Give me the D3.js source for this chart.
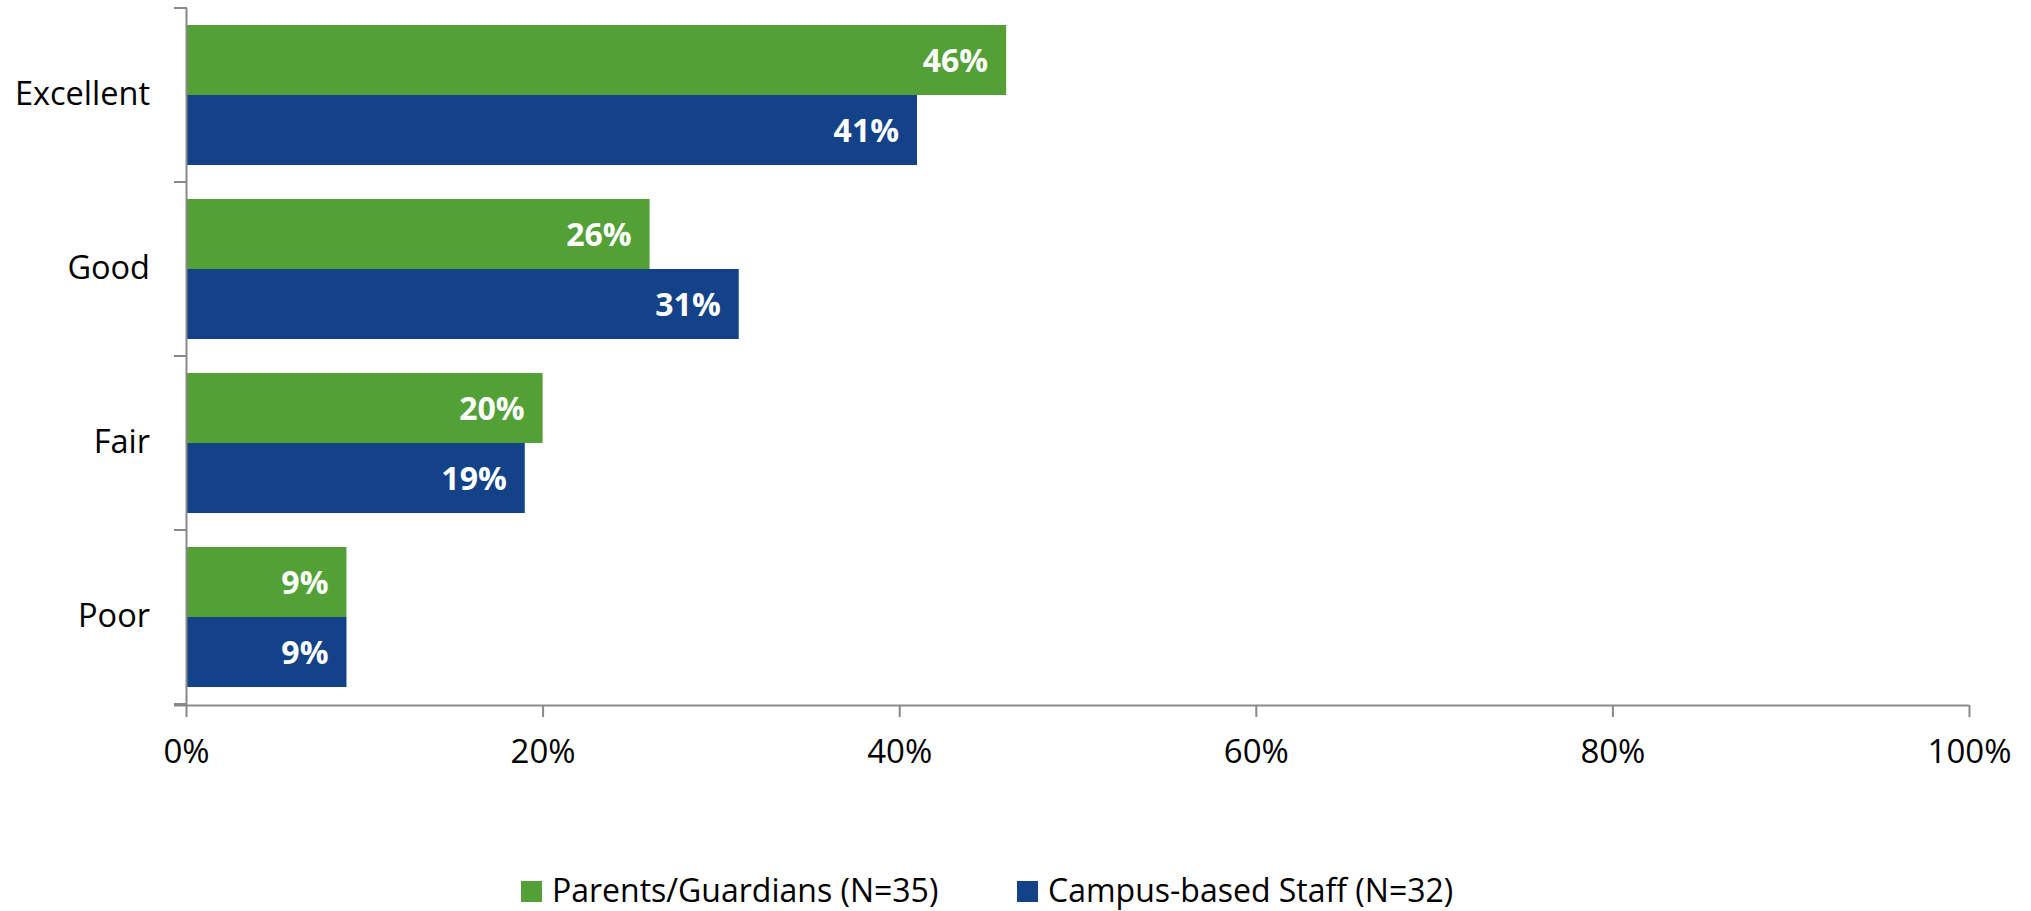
<!DOCTYPE html>
<html><head><meta charset="utf-8">
<script src="https://cdn.jsdelivr.net/npm/d3@7"></script>
<style>body{margin:0;background:#fff}svg{display:block}text{font-family:"Open Sans",sans-serif}</style>
</head><body><svg id="c" width="2031" height="911"></svg>
<script>
const categories = ["Excellent","Good","Fair","Poor"];
const seriesNames = ["Parents/Guardians (N=35)","Campus-based Staff (N=32)"];
const parents = [46,26,20,9];
const staff = [41,31,19,9];
const xTicks = [0,20,40,60,80,100];
const colors = ["#53A037","#134289"];

const svg = d3.select("#c");
const x = d3.scaleLinear().domain([0,100]).range([186,1969]);
const y = d3.scaleBand().domain(categories).range([8,704]).padding(0);
const yi = d3.scaleBand().domain([0,1]).range([0,y.bandwidth()]).paddingInner(0).paddingOuter(0.243);
const axisColor = "#898989";

const data = categories.map((c,i)=>({cat:c, vals:[parents[i], staff[i]]}));

const g = svg.append("g");
data.forEach(d=>{
  d.vals.forEach((v,s)=>{
    const yy = y(d.cat)+yi(s);
    g.append("rect").attr("x",x(0)).attr("y",yy).attr("width",x(v)-x(0)).attr("height",yi.bandwidth()).attr("fill",colors[s]);
    g.append("text").attr("x",x(v)-18).attr("y",yy+yi.bandwidth()/2).attr("dy","0.36em")
      .attr("text-anchor","end").attr("fill","#fff").attr("font-weight","bold").attr("font-size",32)
      .text(v+"%");
  });
});

// x axis
const xa = svg.append("g").attr("transform","translate(0,705)")
  .call(d3.axisBottom(x).tickValues(xTicks).tickFormat(d=>d+"%").tickSize(12).tickSizeOuter(0).tickPadding(23));
xa.select(".domain").attr("stroke",axisColor).attr("stroke-width",2).attr("d","M174,0.5H1969");
xa.selectAll(".tick line").attr("stroke",axisColor).attr("stroke-width",2);
xa.selectAll(".tick text").attr("font-size",33).attr("fill","#000").attr("font-family","Open Sans");

// y axis
const ya = svg.append("g").attr("transform","translate(186,0)")
  .call(d3.axisLeft(y).tickSize(0).tickPadding(36));
ya.select(".domain").attr("stroke",axisColor).attr("stroke-width",2).attr("d","M0.5,8V705");
ya.selectAll(".tick text").attr("font-size",32.5).attr("fill","#000").attr("font-family","Open Sans");
const boundaries = categories.map(c=>y(c)).concat([y.range()[1]]);
svg.append("g").selectAll("line").data(boundaries).join("line")
  .attr("x1",174).attr("x2",187).attr("y1",d=>d).attr("y2",d=>d)
  .attr("stroke",axisColor).attr("stroke-width",2);

// legend
const legendX = [521,1017];
const lg = svg.append("g");
seriesNames.forEach((n,i)=>{
  lg.append("rect").attr("x",legendX[i]).attr("y",881).attr("width",21).attr("height",21).attr("fill",colors[i]);
  lg.append("text").attr("x",legendX[i]+31).attr("y",902).attr("font-size",32).attr("fill","#000").text(n);
});
</script></body></html>
